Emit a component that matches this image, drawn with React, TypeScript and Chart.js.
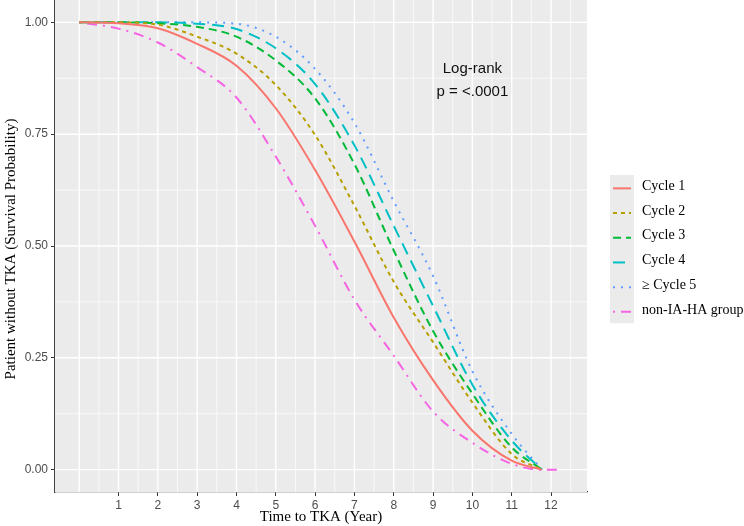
import React, { useEffect, useRef } from "react";
import Chart from "chart.js/auto";

const years = [0, 1, 2, 3, 4, 5, 6, 7, 8, 9, 10, 11];
const endYear = 11.77;
const nonHaEndYear = 12.3;

const cycle1 = [1.0, 0.998, 0.987, 0.952, 0.903, 0.808, 0.67, 0.51, 0.34, 0.2, 0.087, 0.02];
const cycle2 = [1.0, 1.0, 0.995, 0.968, 0.93, 0.86, 0.748, 0.59, 0.42, 0.285, 0.15, 0.035];
const cycle3 = [1.0, 1.0, 0.998, 0.99, 0.968, 0.915, 0.83, 0.683, 0.49, 0.31, 0.17, 0.05];
const cycle4 = [1.0, 1.0, 1.0, 0.997, 0.985, 0.942, 0.862, 0.725, 0.545, 0.366, 0.19, 0.065];
const cycle5 = [1.0, 1.0, 1.0, 1.0, 0.997, 0.968, 0.896, 0.775, 0.6, 0.433, 0.22, 0.08];
const nonHa = [1.0, 0.986, 0.955, 0.9, 0.832, 0.7, 0.545, 0.38, 0.255, 0.13, 0.06, 0.013];

const seriesNames = ["Cycle 1", "Cycle 2", "Cycle 3", "Cycle 4", "\u2265 Cycle 5", "non-IA-HA group"];
const seriesColors = ["#F8766D", "#B79F00", "#00BA38", "#00BFC4", "#619CFF", "#F564E3"];
const seriesDashes = [[], [4, 4], [8, 5], [12, 7], [2, 6], [2, 6, 10, 6]];

const xTicks = [1, 2, 3, 4, 5, 6, 7, 8, 9, 10, 11, 12];
const yTicks = [0, 0.25, 0.5, 0.75, 1];

const toPoints = (vals: number[], extra: number[][]) =>
  years.map((x, i) => ({ x, y: vals[i] })).concat(extra.map(([x, y]) => ({ x, y })));

const SANS = "'Liberation Sans', Arial, sans-serif";
const SERIF = "'Liberation Serif', 'Times New Roman', serif";

const decorPlugin = {
  id: "decor",
  beforeDatasetsDraw(chart: any) {
    const { ctx, chartArea, scales } = chart;
    const { left, right, top, bottom } = chartArea;
    ctx.save();
    ctx.fillStyle = "#EBEBEB";
    ctx.fillRect(left, top, right - left, bottom - top);
    ctx.strokeStyle = "#FFFFFF";
    // minor lines
    ctx.lineWidth = 0.7;
    for (let v = 0.5; v <= 12.5; v += 1) {
      const px = scales.x.getPixelForValue(v);
      ctx.beginPath();
      ctx.moveTo(px, top);
      ctx.lineTo(px, bottom);
      ctx.stroke();
    }
    for (let v = 0.125; v < 1; v += 0.25) {
      const py = scales.y.getPixelForValue(v);
      ctx.beginPath();
      ctx.moveTo(left, py);
      ctx.lineTo(right, py);
      ctx.stroke();
    }
    // major lines
    ctx.lineWidth = 1.4;
    for (let v = 0; v <= 12; v += 1) {
      const px = scales.x.getPixelForValue(v);
      ctx.beginPath();
      ctx.moveTo(px, top);
      ctx.lineTo(px, bottom);
      ctx.stroke();
    }
    yTicks.forEach((v) => {
      const py = scales.y.getPixelForValue(v);
      ctx.beginPath();
      ctx.moveTo(left, py);
      ctx.lineTo(right, py);
      ctx.stroke();
    });
    ctx.restore();
  },
  afterDraw(chart: any) {
    const { ctx, chartArea, scales } = chart;
    ctx.save();
    // annotation
    ctx.fillStyle = "#111111";
    ctx.font = `15px ${SANS}`;
    ctx.textAlign = "center";
    ctx.textBaseline = "middle";
    const ax = scales.x.getPixelForValue(10);
    ctx.fillText("Log-rank", ax, 69);
    ctx.fillText("p = <.0001", ax, 92);

    // axis titles
    ctx.fillStyle = "#000000";
    ctx.font = `15px ${SERIF}`;
    ctx.fillText("Time to TKA (Year)", (chartArea.left + chartArea.right) / 2, 517);
    ctx.save();
    ctx.translate(11, 249);
    ctx.rotate(-Math.PI / 2);
    ctx.fillText("Patient without TKA (Survival Probability)", 0, 0);
    ctx.restore();

    // legend
    const keyLeft = 610;
    const keyW = 24;
    const rowH = 24.7;
    const legTop = 175;
    ctx.fillStyle = "#EBEBEB";
    ctx.fillRect(keyLeft, legTop, keyW, rowH * seriesNames.length);
    ctx.font = `14px ${SERIF}`;
    ctx.textAlign = "left";
    seriesNames.forEach((name, i) => {
      const cy = legTop + rowH * i + rowH / 2;
      ctx.strokeStyle = seriesColors[i];
      ctx.lineWidth = 2;
      ctx.setLineDash(seriesDashes[i]);
      ctx.beginPath();
      ctx.moveTo(keyLeft + 3, cy + 1);
      ctx.lineTo(keyLeft + keyW - 3, cy + 1);
      ctx.stroke();
      ctx.setLineDash([]);
      ctx.fillStyle = "#000000";
      ctx.fillText(name, 642, cy - 1);
    });
    ctx.restore();
  },
};

const App: React.FC = () => {
  const canvasRef = useRef<HTMLCanvasElement>(null);

  useEffect(() => {
    const canvas = canvasRef.current;
    if (!canvas) return;
    const ctx = canvas.getContext("2d");
    if (!ctx) return;

    const allSeries = [cycle1, cycle2, cycle3, cycle4, cycle5, nonHa];
    const datasets = allSeries.map((vals, i) => ({
      label: seriesNames[i],
      data:
        i === 5
          ? toPoints(vals, [[endYear - 0.05, 0], [nonHaEndYear, 0]])
          : toPoints(vals, [[endYear, 0]]),
      borderColor: seriesColors[i],
      borderWidth: 2,
      borderDash: seriesDashes[i],
      pointRadius: 0,
      cubicInterpolationMode: "monotone" as const,
      fill: false,
    }));

    const chart = new Chart(ctx, {
      type: "line",
      data: { datasets },
      options: {
        responsive: false,
        animation: false,
        layout: { padding: { top: 0, right: 157, bottom: 0, left: 0 } },
        plugins: { legend: { display: false }, tooltip: { enabled: false } },
        scales: {
          x: {
            type: "linear",
            min: -0.615,
            max: 12.915,
            afterBuildTicks: (scale: any) => {
              scale.ticks = xTicks.map((value) => ({ value }));
            },
            afterFit: (scale: any) => {
              scale.height = 34;
              scale.paddingLeft = 0;
              scale.paddingRight = 0;
            },
            grid: { drawOnChartArea: false, drawTicks: true, tickLength: 4, tickColor: "#333333" },
            border: { display: true, color: "#444444", width: 1.3 },
            ticks: {
              color: "#4D4D4D",
              font: { family: SANS, size: 12 },
              padding: 2,
              maxRotation: 0,
              autoSkip: false,
              callback: (v: any) => String(v),
            },
          },
          y: {
            type: "linear",
            min: -0.05,
            max: 1.05,
            afterBuildTicks: (scale: any) => {
              scale.ticks = yTicks.map((value) => ({ value }));
            },
            afterFit: (scale: any) => {
              scale.width = 55;
              scale.paddingTop = 0;
              scale.paddingBottom = 0;
            },
            grid: { drawOnChartArea: false, drawTicks: true, tickLength: 4, tickColor: "#333333" },
            border: { display: true, color: "#444444", width: 1.3 },
            ticks: {
              color: "#4D4D4D",
              font: { family: SANS, size: 12 },
              padding: 3,
              autoSkip: false,
              callback: (v: any) => Number(v).toFixed(2),
            },
          },
        },
      },
      plugins: [decorPlugin],
    });

    return () => chart.destroy();
  }, []);

  return (
    <div style={{ position: "absolute", left: 0, top: 0, width: 744, height: 526, background: "#fff" }}>
      <canvas ref={canvasRef} width={744} height={526} />
    </div>
  );
};

export default App;
